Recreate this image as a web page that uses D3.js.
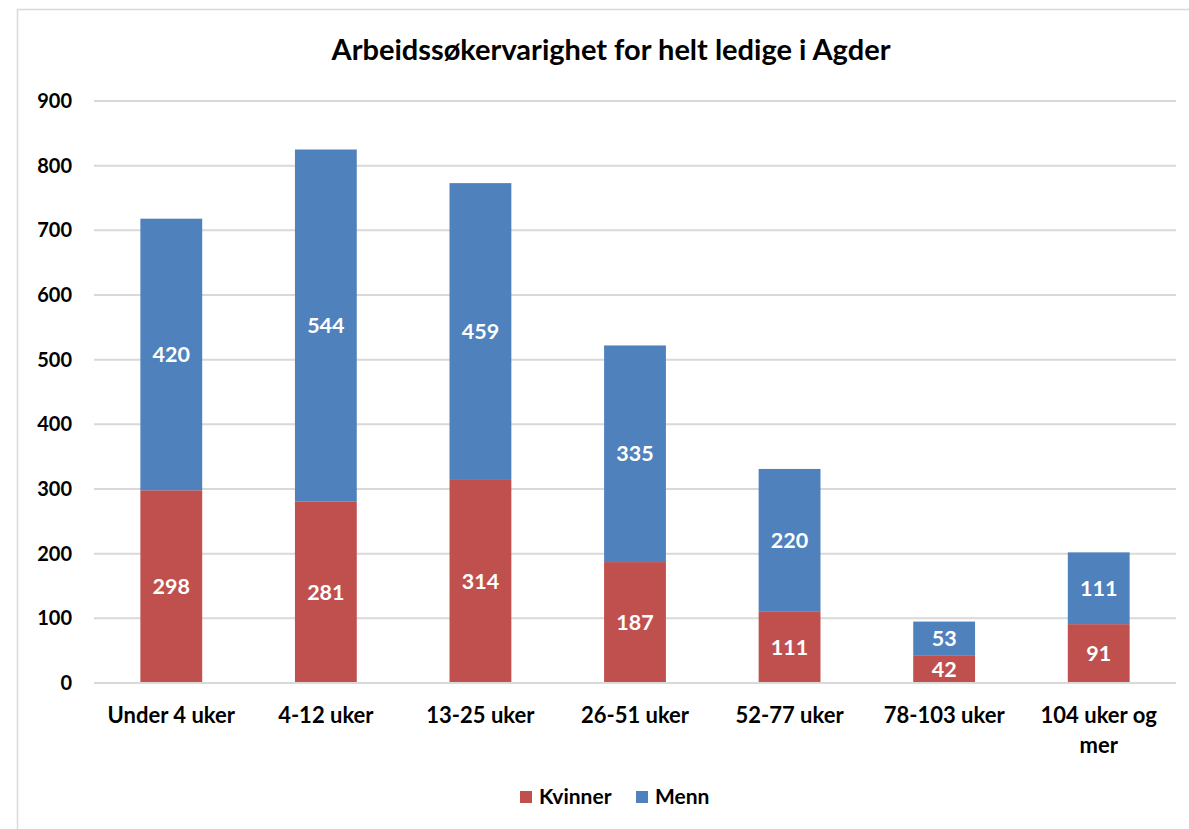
<!DOCTYPE html>
<html><head><meta charset="utf-8">
<script src="https://cdn.jsdelivr.net/npm/d3@7"></script>
<style>body{margin:0;background:#fff;} text{font-family:Lato, "Open Sans", sans-serif;font-weight:bold;}</style>
</head><body>
<svg id="chart" width="1189" height="829"></svg>
<script>
const categories = ["Under 4 uker","4-12 uker","13-25 uker","26-51 uker","52-77 uker","78-103 uker","104 uker og mer"];
const categoryLines = [["Under 4 uker"],["4-12 uker"],["13-25 uker"],["26-51 uker"],["52-77 uker"],["78-103 uker"],["104 uker og","mer"]];
const kvinner = [298,281,314,187,111,42,91];
const menn = [420,544,459,335,220,53,111];
const seriesNames = ["Kvinner","Menn"];
const seriesColors = ["#C0504D","#4F81BD"];
const yTicks = [0,100,200,300,400,500,600,700,800,900];
const title = "Arbeidssøkervarighet for helt ledige i Agder";

(function(){
const svg = d3.select("#chart");
svg.append("rect").attr("x",17.5).attr("y",9.5).attr("width",1200).attr("height",900)
  .attr("fill","none").attr("stroke","#D9D9D9").attr("stroke-width",1.5);

const pl=94, pr=1176, pt=101, pb=683;
const x = d3.scaleBand().domain(categories).range([pl,pr]).paddingInner(0.6).paddingOuter(0.3);
const y = d3.scaleLinear().domain([0,900]).range([pb,pt]);

svg.append("text").attr("x",611).attr("y",60).attr("text-anchor","middle")
  .attr("font-size",29).attr("fill","#000").text(title);

const gy = svg.append("g");
gy.selectAll("line").data(yTicks).join("line")
  .attr("x1",pl).attr("x2",pr).attr("y1",d=>y(d)).attr("y2",d=>y(d))
  .attr("stroke","#D9D9D9").attr("stroke-width",2);
gy.selectAll("text").data(yTicks).join("text")
  .attr("x",72).attr("y",d=>y(d)).attr("dy","0.35em").attr("text-anchor","end")
  .attr("font-size",20).attr("fill","#000").text(d=>d);

const stackData = categories.map((c,i)=>({cat:c, Kvinner:kvinner[i], Menn:menn[i]}));
const stack = d3.stack().keys(seriesNames)(stackData);

stack.forEach((s,si)=>{
  const g = svg.append("g");
  g.selectAll("rect").data(s).join("rect")
    .attr("x",d=>x(d.data.cat)).attr("width",x.bandwidth())
    .attr("y",d=>y(d[1])).attr("height",d=>y(d[0])-y(d[1]))
    .attr("fill",seriesColors[si]);
  g.selectAll("text").data(s).join("text")
    .attr("x",d=>x(d.data.cat)+x.bandwidth()/2)
    .attr("y",d=>(y(d[0])+y(d[1]))/2).attr("dy","0.35em")
    .attr("text-anchor","middle").attr("font-size",21.5).attr("fill","#fff")
    .text(d=>d[1]-d[0]);
});

svg.append("line").attr("x1",pl).attr("x2",pr).attr("y1",y(0)).attr("y2",y(0))
  .attr("stroke","#D9D9D9").attr("stroke-width",2);

const gx = svg.append("g");
categories.forEach((c,i)=>{
  const t = gx.append("text").attr("x",x(c)+x.bandwidth()/2).attr("y",723)
    .attr("text-anchor","middle").attr("font-size",22).attr("fill","#000");
  categoryLines[i].forEach((ln,j)=>{
    t.append("tspan").attr("x",x(c)+x.bandwidth()/2).attr("dy",j===0?0:30).text(ln);
  });
});

const legendX = [520,636];
seriesNames.forEach((n,i)=>{
  svg.append("rect").attr("x",legendX[i]).attr("y",791).attr("width",12).attr("height",12).attr("fill",seriesColors[i]);
  svg.append("text").attr("x",legendX[i]+19).attr("y",797).attr("dy","0.35em")
    .attr("font-size",21).attr("fill","#000").text(n);
});
})();
</script>
</body></html>
